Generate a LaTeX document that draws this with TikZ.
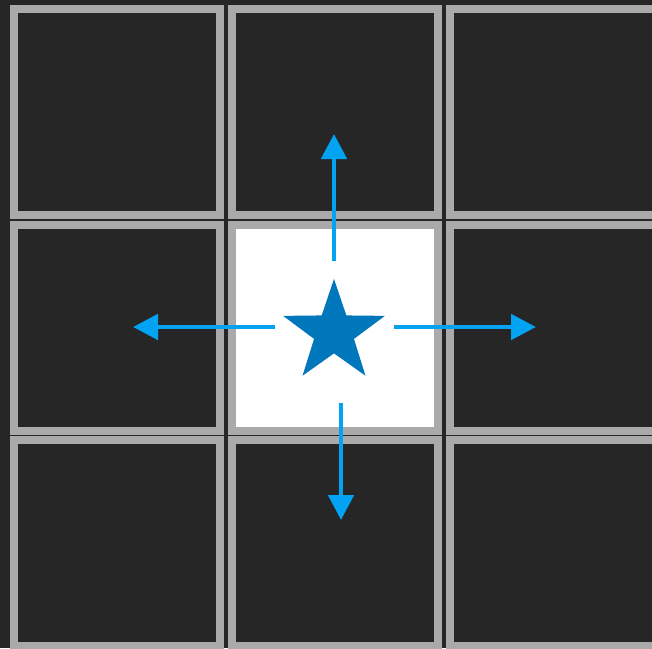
\documentclass[tikz,border=0pt]{standalone}
\usetikzlibrary{shapes.geometric,arrows.meta}
\definecolor{bgdark}{HTML}{262626}
\definecolor{cellgray}{HTML}{AAAAAA}
\definecolor{cellline}{HTML}{8A8A8A}
\definecolor{starblue}{HTML}{0077BB}
\definecolor{arrowblue}{HTML}{03A3F4}
\tikzset{
  cellbox/.style={draw=cellgray, line width=8pt, fill=bgdark, minimum width=206pt, minimum height=206pt, inner sep=0pt, outer sep=0pt},
  centercell/.style={cellbox, fill=white},
  moveline/.style={draw=arrowblue, line width=4.8pt, -{Triangle[length=25pt,width=25pt]}},
  starnode/.style={star, star points=5, star point ratio=2.55, minimum size=107pt, inner sep=0pt, fill=starblue, draw=none}
}
\begin{document}
\begin{tikzpicture}[x=1pt,y=-1pt]
\useasboundingbox (0,0) rectangle (652,648);
\fill[bgdark] (0,0) rectangle (652,648);
% cells: columns outer [10,224],[228,442],[446,660]; rows outer [5,219],[220.5,434.5],[436,650]
\node[cellbox] (c11) at (117,112) {};
\node[cellbox] (c12) at (335,112) {};
\node[cellbox] (c13) at (553,112) {};
\node[cellbox] (c21) at (117,327.5) {};
\node[centercell] (c22) at (335,327.5) {};
\node[cellbox] (c23) at (553,327.5) {};
\node[cellbox] (c31) at (117,543) {};
\node[cellbox] (c32) at (335,543) {};
\node[cellbox] (c33) at (553,543) {};
% star
\node[starnode] (s) at (334,332.4) {};
% arrow end points
\coordinate (upA) at (334,261);
\coordinate (upB) at (334,134);
\coordinate (leftA) at (275,327);
\coordinate (leftB) at (133,327);
\coordinate (rightA) at (394,327);
\coordinate (rightB) at (536,327);
\coordinate (downA) at (341,403);
\coordinate (downB) at (341,520);
\draw[moveline] (upA) -- (upB);
\draw[moveline] (leftA) -- (leftB);
\draw[moveline] (rightA) -- (rightB);
\draw[moveline] (downA) -- (downB);
\end{tikzpicture}
\end{document}
